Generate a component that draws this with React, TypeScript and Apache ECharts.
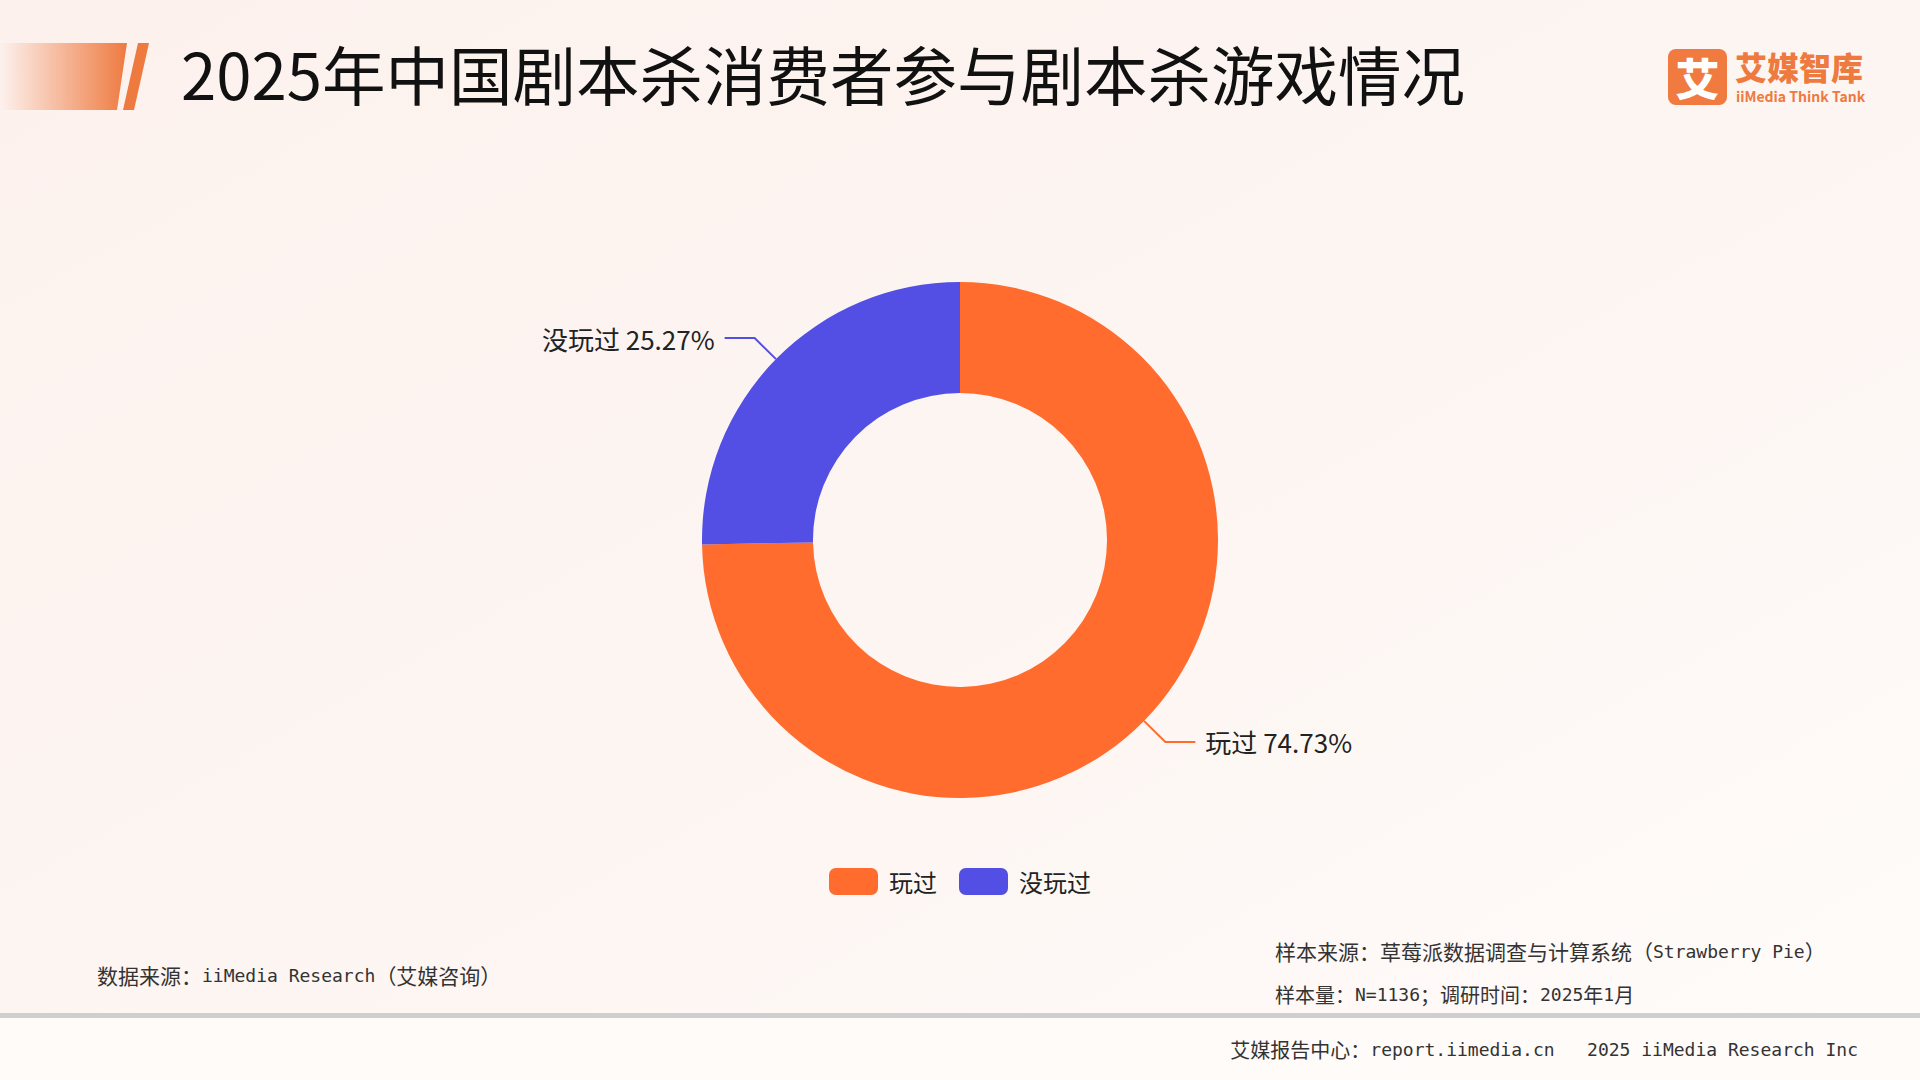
import React, { useEffect, useRef } from "react";
import * as echarts from "echarts";

const categories = ["玩过", "没玩过"];
const values = [74.73, 25.27];
const colors = ["#FF6C2D", "#534FE5"];
const titleText = "2025年中国剧本杀消费者参与剧本杀游戏情况";
// footer texts split into CJK (c) and Latin (m) runs
const dataSource = "{c|数据来源：}{m|iiMedia Research}{c|（艾媒咨询）}";
const sampleSource = "{c|样本来源：草莓派数据调查与计算系统（}{m|Strawberry Pie}{c|）}";
const sampleSize = "{c|样本量：}{m|N=1136}{c|；调研时间：}{m|2025}{c|年}{m|1}{c|月}";
const footerText = "{c|艾媒报告中心：}{m|report.iimedia.cn   2025 iiMedia Research Inc}";

const CJK = '"Noto Sans CJK SC", "Noto Sans", sans-serif';
const MONO = '"DejaVu Sans Mono", "Noto Sans CJK SC", monospace';

function rich(cjkSize: number) {
  return {
    c: { fontFamily: CJK, fontSize: cjkSize, color: "#333", lineHeight: 26 },
    m: { fontFamily: MONO, fontSize: 18, color: "#333", lineHeight: 26 },
  };
}

function footer(text: string, x: number, y: number, align = "left", cjkSize = 20) {
  return {
    type: "text",
    x,
    y,
    style: {
      text,
      rich: rich(cjkSize),
      fill: "#333",
      textAlign: align,
      textVerticalAlign: "middle",
    },
  };
}

export default function App() {
  const ref = useRef<HTMLDivElement>(null);
  useEffect(() => {
    if (!ref.current) return;
    const chart = echarts.init(ref.current, null, { renderer: "svg" });
    chart.setOption({
      animation: false,
      backgroundColor: {
        type: "linear",
        x: 0,
        y: 0,
        x2: 1,
        y2: 1,
        colorStops: [
          { offset: 0, color: "#FCF1ED" },
          { offset: 0.6, color: "#FDF6F3" },
          { offset: 1, color: "#FFFCFA" },
        ],
      },
      legend: {
        data: categories,
        left: "center",
        top: 863,
        icon: "roundRect",
        itemWidth: 49,
        itemHeight: 27,
        itemGap: 22,
        textStyle: { fontFamily: CJK, fontSize: 24, color: "#222", padding: [0, 0, 0, 6] },
      },
      series: [
        {
          type: "pie",
          center: [960, 540],
          radius: [147, 258],
          startAngle: 90,
          clockwise: true,
          avoidLabelOverlap: false,
          data: categories.map((c, i) => ({
            name: c,
            value: values[i],
            itemStyle: { color: colors[i] },
          })),
          label: {
            show: true,
            position: "outside",
            formatter: (p: any) => `${p.name} ${p.value.toFixed(2)}%`,
            fontFamily: CJK,
            fontSize: 26,
            color: "#222",
            distanceToLabelLine: 10,
            padding: [0, 0, 4, 0],
          },
          labelLine: {
            show: true,
            length: 30,
            length2: 30,
            smooth: false,
            lineStyle: { width: 2 },
          },
          emphasis: { disabled: true },
        },
      ],
      graphic: [
        // top-left decoration
        {
          type: "polygon",
          shape: { points: [[0, 43], [127, 43], [117, 110], [0, 110]] },
          style: {
            fill: {
              type: "linear",
              x: 0,
              y: 0,
              x2: 1,
              y2: 0,
              colorStops: [
                { offset: 0, color: "rgba(240,125,70,0)" },
                { offset: 1, color: "#EE7A40" },
              ],
            },
          },
        },
        {
          type: "polygon",
          shape: { points: [[138, 43], [149, 43], [134, 110], [123, 110]] },
          style: { fill: "#EE7A40" },
        },
        {
          type: "text",
          x: 181,
          y: 72,
          style: {
            text: titleText,
            font: `400 63.5px ${CJK}`,
            fill: "#111",
            textAlign: "left",
            textVerticalAlign: "middle",
          },
        },
        // logo
        {
          type: "rect",
          shape: { x: 1668, y: 49, width: 59, height: 56, r: 8 },
          style: { fill: "#F07A3F" },
        },
        {
          type: "text",
          x: 1697.5,
          y: 77,
          style: {
            text: "艾",
            font: `900 44px ${CJK}`,
            fill: "#fff",
            textAlign: "center",
            textVerticalAlign: "middle",
          },
        },
        {
          type: "text",
          x: 1735,
          y: 66,
          style: {
            text: "艾媒智库",
            font: `900 32px ${CJK}`,
            fill: "#EE7A40",
            textAlign: "left",
            textVerticalAlign: "middle",
          },
        },
        {
          type: "text",
          x: 1736,
          y: 96,
          style: {
            text: "iiMedia Think Tank",
            font: `bold 14px ${CJK}`,
            fill: "#EE7A40",
            textAlign: "left",
            textVerticalAlign: "middle",
          },
        },
        // footer
        footer(dataSource, 97, 975, "left", 21),
        footer(sampleSource, 1275, 951, "left", 21),
        footer(sampleSize, 1275, 994, "left", 20),
        {
          type: "rect",
          shape: { x: 0, y: 1018, width: 1920, height: 62 },
          style: { fill: "#FFFBF9" },
        },
        {
          type: "rect",
          shape: { x: 0, y: 1013, width: 1920, height: 5 },
          style: { fill: "#CFCFCF" },
        },
        footer(footerText, 1858, 1049, "right", 20),
      ],
    });
    return () => chart.dispose();
  }, []);
  return (
    <div
      ref={ref}
      style={{ position: "absolute", left: 0, top: 0, width: 1920, height: 1080 }}
    />
  );
}
